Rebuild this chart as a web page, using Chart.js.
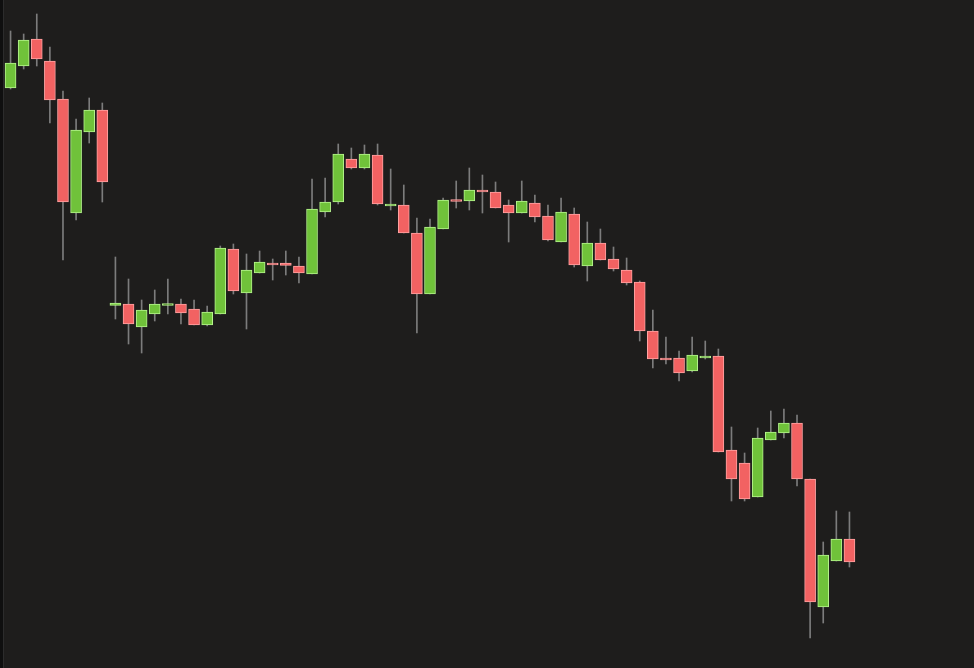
<!DOCTYPE html>
<html>
<head>
<meta charset="utf-8">
<script src="https://cdn.jsdelivr.net/npm/chart.js@4/dist/chart.umd.min.js"></script>
<style>
  html, body { margin: 0; padding: 0; background: #1e1d1c; }
  #wrap { width: 974px; height: 668px; }
</style>
</head>
<body>
<div id="wrap"><canvas id="chart" width="974" height="668"></canvas></div>
<script>
// OHLC series, one entry per session (no axis labels shown on the chart)
const sessions = Array.from({ length: 65 }, (_, i) => 'D' + (i + 1));
const openP  = [58.0, 60.2, 62.9, 60.7, 56.9, 45.5, 53.6, 55.8, 36.25, 36.4, 34.1, 35.4, 36.25, 36.4, 35.9, 34.3,
                35.4, 41.9, 37.5, 39.5, 40.5, 40.5, 40.2, 39.4, 45.6, 46.6, 50.9, 50.0, 51.3, 46.2, 46.3, 43.5,
                37.4, 43.9, 46.8, 46.7, 47.8, 47.6, 46.3, 45.5, 46.5, 45.2, 42.6, 45.4, 40.2, 42.5, 40.9, 39.8,
                38.6, 33.7, 31.0, 31.0, 29.7, 31.0, 31.2, 21.8, 20.5, 17.1, 22.8, 23.5, 24.5, 18.9, 6.1, 10.7, 12.9];
const highP  = [63.7, 63.4, 65.4, 62.1, 57.7, 54.9, 57.0, 56.5, 41.1, 38.9, 36.8, 37.8, 38.9, 36.9, 36.8, 36.2,
                42.2, 42.4, 41.4, 41.7, 40.9, 41.7, 41.1, 48.9, 49.0, 52.4, 52.0, 52.3, 52.4, 49.9, 48.3, 45.0,
                44.9, 47.0, 48.7, 50.0, 49.3, 48.6, 46.8, 48.7, 47.3, 46.3, 47.0, 46.0, 44.6, 43.9, 42.1, 41.0,
                38.7, 35.8, 33.1, 31.7, 33.1, 32.7, 31.9, 24.1, 21.5, 24.0, 25.7, 25.9, 25.3, 18.9, 12.6, 15.7, 15.6];
const lowP   = [57.9, 59.9, 60.2, 54.5, 40.8, 44.8, 52.5, 46.6, 34.9, 32.4, 31.5, 34.7, 35.4, 34.4, 34.3, 34.2,
                35.4, 37.4, 33.9, 39.5, 38.8, 39.3, 38.5, 39.4, 45.1, 46.4, 49.9, 49.9, 46.3, 45.8, 43.5, 33.5,
                37.4, 43.9, 46.0, 45.8, 45.5, 46.0, 42.6, 45.5, 44.6, 42.7, 42.6, 40.1, 38.7, 40.8, 39.7, 38.3,
                32.7, 30.0, 30.4, 28.7, 29.6, 30.9, 21.6, 16.7, 16.7, 17.1, 22.8, 23.0, 18.2, 3.0, 4.5, 10.7, 10.1];
const closeP = [60.5, 62.8, 60.9, 56.8, 46.6, 53.8, 55.8, 48.6, 36.5, 34.4, 35.8, 36.4, 36.45, 35.5, 34.3, 35.6,
                42.0, 37.7, 39.8, 40.6, 40.3, 40.25, 39.5, 45.9, 46.6, 51.4, 50.0, 51.4, 46.4, 46.4, 43.5, 37.4,
                44.1, 46.8, 46.65, 47.8, 47.6, 46.0, 45.5, 46.7, 45.1, 42.8, 45.6, 40.3, 42.5, 40.8, 39.9, 38.5,
                33.7, 30.9, 30.8, 29.5, 31.3, 31.2, 21.6, 18.9, 16.9, 23.0, 23.6, 24.5, 18.9, 6.6, 11.3, 12.9, 10.6];

const UP_FILL = '#70c23a', UP_EDGE = '#b6f48e';
const DN_FILL = '#f26262', DN_EDGE = '#ffa3a3';
const WICK = '#7c7c7c';

const isUp = openP.map((o, i) => closeP[i] >= o);

// dark strip on the left edge of the panel
const panelEdge = {
  id: 'panelEdge',
  beforeDraw(chart) {
    const ctx = chart.ctx;
    ctx.save();
    ctx.fillStyle = '#1e1d1c';
    ctx.fillRect(0, 0, chart.width, chart.height);
    ctx.fillStyle = '#0f0f0f';
    ctx.fillRect(0, 0, 3, chart.height);
    ctx.fillStyle = '#2c2c2c';
    ctx.fillRect(3, 0, 1, chart.height);
    ctx.restore();
  }
};

new Chart(document.getElementById('chart'), {
  type: 'bar',
  data: {
    labels: sessions,
    datasets: [
      {
        label: 'wick', order: 2, grouped: false,
        data: highP.map((h, i) => [lowP[i], h]),
        backgroundColor: WICK, borderWidth: 0, barThickness: 1
      },
      {
        label: 'body', order: 1, grouped: false,
        data: openP.map((o, i) => [o, closeP[i]]),
        backgroundColor: isUp.map(u => u ? UP_FILL : DN_FILL),
        borderColor: isUp.map(u => u ? UP_EDGE : DN_EDGE),
        borderWidth: 1, borderSkipped: false, barThickness: 11, minBarLength: 2
      }
    ]
  },
  options: {
    responsive: false, animation: false,
    layout: { padding: { left: 4, right: 118, top: 0, bottom: 0 } },
    scales: {
      x: { display: false, offset: true },
      y: { display: false, min: 0, max: 66.8 }
    },
    plugins: { legend: { display: false }, tooltip: { enabled: false } }
  },
  plugins: [panelEdge]
});
</script>
</body>
</html>
